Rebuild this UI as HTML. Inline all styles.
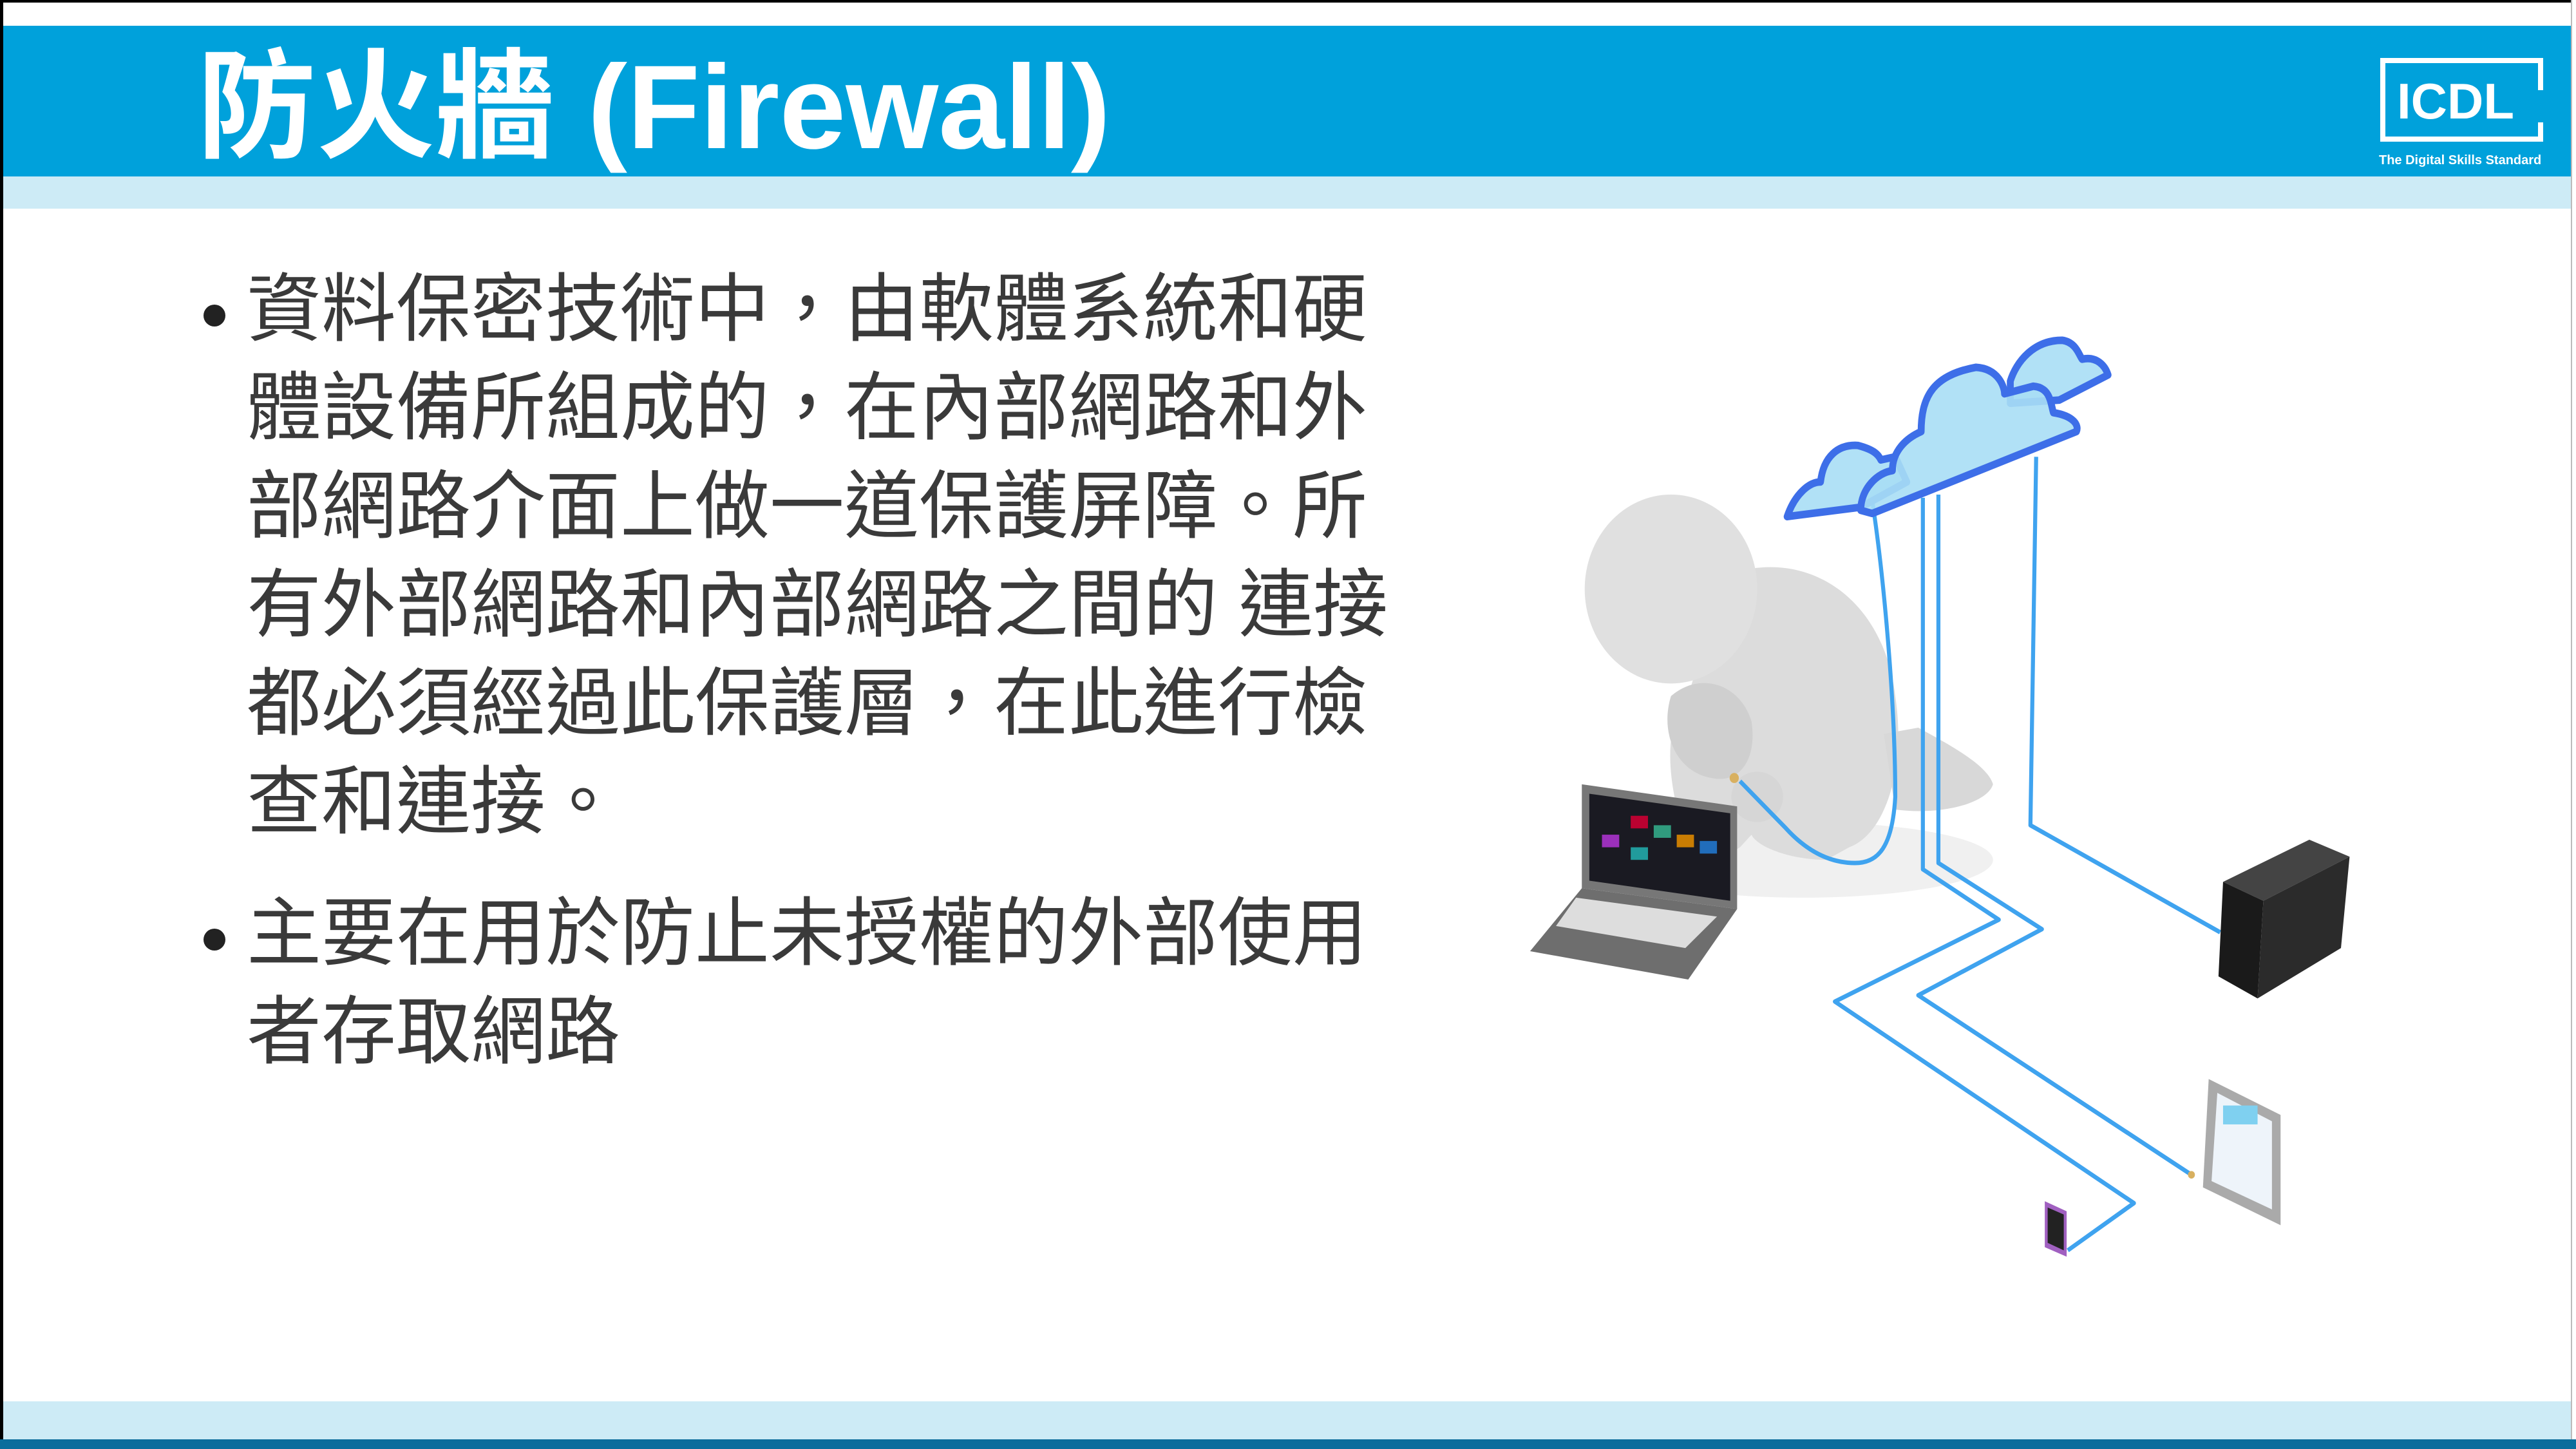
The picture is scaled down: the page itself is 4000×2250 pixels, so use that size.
<!DOCTYPE html>
<html><head><meta charset="utf-8"><style>
html,body{margin:0;padding:0;}
body{width:4000px;height:2250px;position:relative;overflow:hidden;background:#fff;font-family:"Liberation Sans","Noto Sans CJK TC",sans-serif;}
.abs{position:absolute;}
.line{position:absolute;left:383px;font-size:116px;line-height:153px;color:#3a3a3a;white-space:pre;font-family:"Liberation Sans","Noto Sans CJK TC",sans-serif;}
.dot{position:absolute;width:34px;height:34px;border-radius:50%;background:#222;left:316px;}
</style></head><body>
<div class="abs" style="left:0;top:0;width:4000px;height:4px;background:#000"></div>
<div class="abs" style="left:0;top:0;width:5px;height:2250px;background:#000"></div>
<div class="abs" style="left:3992px;top:0;width:8px;height:2250px;background:#fff;border-left:2px solid #bbb"></div>
<div class="abs" style="left:5px;top:40px;width:3987px;height:234px;background:#00a1db"></div>
<div class="abs" style="left:5px;top:274px;width:3987px;height:50px;background:#cdebf6"></div>
<div class="abs" style="left:306px;top:52px;font-size:185px;line-height:230px;color:#fff;font-weight:bold;white-space:pre;font-family:'Liberation Sans','Noto Sans CJK TC',sans-serif;">防火牆 (Firewall)</div>
<!-- logo -->
<div class="abs" style="left:3696px;top:90px;width:252px;height:130px;border:8px solid #fff;border-right:none;box-sizing:border-box;"></div>
<div class="abs" style="left:3935px;top:90px;width:14px;height:8px;background:#fff"></div>
<div class="abs" style="left:3941px;top:90px;width:8px;height:50px;background:#fff"></div>
<div class="abs" style="left:3941px;top:190px;width:8px;height:30px;background:#fff"></div>
<div class="abs" style="left:3900px;top:212px;width:49px;height:8px;background:#fff"></div>
<div class="abs" style="left:3722px;top:112px;font-size:78px;font-weight:bold;color:#fff;line-height:90px;">ICDL</div>
<div class="abs" style="left:3694px;top:238px;font-size:20px;font-weight:bold;color:#fff;white-space:pre;">The Digital Skills Standard</div>

<!-- bullets -->
<div class="dot" style="top:473px"></div>
<div class="line" style="top:404px">資料保密技術中，由軟體系統和硬</div>
<div class="line" style="top:557px">體設備所組成的，在內部網路和外</div>
<div class="line" style="top:710px">部網路介面上做一道保護屏障。所</div>
<div class="line" style="top:863px">有外部網路和內部網路之間的 連接</div>
<div class="line" style="top:1016px">都必須經過此保護層，在此進行檢</div>
<div class="line" style="top:1169px">查和連接。</div>
<div class="dot" style="top:1442px"></div>
<div class="line" style="top:1373px">主要在用於防止未授權的外部使用</div>
<div class="line" style="top:1526px">者存取網路</div>

<div class="abs" style="left:5px;top:2176px;width:3987px;height:59px;background:#cdebf6"></div>
<div class="abs" style="left:0;top:2235px;width:4000px;height:15px;background:#0b6d9c"></div>

<svg class="abs" style="left:0;top:0" width="4000" height="2250">
<g transform="translate(2300,455) scale(0.893,0.978)">
 <!-- shadow -->
 <ellipse cx="560" cy="900" rx="330" ry="60" fill="#f0f0f0"/>
 <!-- body -->
 <path d="M420,450 C560,400 700,480 720,640 C740,760 700,860 640,880 L600,900 C540,900 480,880 470,860 L450,880 C420,900 360,880 350,850 C320,760 320,680 360,640 Z" fill="#dcdcdc"/>
 <path d="M700,700 L760,690 C820,720 880,750 890,780 C880,810 800,830 720,820 Z" fill="#d8d8d8"/>
 <path d="M330,640 C380,600 450,620 470,680 C480,740 450,780 400,770 C340,760 310,700 330,640 Z" fill="#cfcfcf"/>
 <ellipse cx="480" cy="800" rx="45" ry="40" fill="#d6d6d6"/>
 <circle cx="330" cy="470" r="150" fill="#e0e0e0"/>
 <!-- cables -->
 <g fill="none" stroke="#3fa3ef" stroke-width="7" stroke-linejoin="round">
  <path d="M680,330 C700,450 720,650 720,800 C715,880 690,905 650,905 C600,905 560,880 530,850 L450,775"/>
  <path d="M768,325 L768,915 L900,995 L615,1125 L1135,1445 L1020,1520"/>
  <path d="M795,320 L795,905 L975,1010 L760,1115 L1235,1400"/>
  <path d="M965,260 L955,845 L1285,1015"/>
 </g>
 <!-- clouds -->
 <g fill="#a9def5" fill-opacity="0.9" stroke="#3d6ee8" stroke-width="12" stroke-linejoin="round">
  <path d="M920,140 C930,110 960,75 1010,75 C1035,78 1040,100 1045,105 C1070,100 1085,115 1090,130 L1005,170 L920,175 Z"/>
  <path d="M532,355 C545,320 570,300 590,300 C595,260 620,240 655,242 C680,248 690,255 695,265 L720,260 L740,300 L660,340 Z"/>
  <path d="M660,345 C660,310 690,285 715,282 C715,250 740,230 765,220 C765,160 790,130 860,118 C900,120 910,150 910,160 L960,148 C990,150 990,175 995,190 C1030,195 1040,210 1035,220 L680,350 Z"/>
 </g>
 <!-- laptop -->
 <polygon points="175,780 445,815 445,978 175,945" fill="#777"/>
 <polygon points="188,795 433,826 433,965 188,933" fill="#1a1a22"/>
 <g fill-opacity="0.9">
 <rect x="260" y="830" width="30" height="20" fill="#c03"/><rect x="300" y="845" width="30" height="20" fill="#3a8"/>
 <rect x="340" y="860" width="30" height="20" fill="#d80"/><rect x="380" y="870" width="30" height="20" fill="#27c"/>
 <rect x="210" y="860" width="30" height="20" fill="#a3c"/><rect x="260" y="880" width="30" height="20" fill="#2aa"/>
 </g>
 <polygon points="175,945 445,978 360,1090 85,1045" fill="#6e6e6e"/>
 <polygon points="165,960 410,990 355,1040 130,1005" fill="#ddd"/>
 <!-- tower -->
 <polygon points="1290,935 1440,868 1510,895 1360,965" fill="#444"/>
 <polygon points="1290,935 1360,965 1350,1120 1282,1085" fill="#1a1a1a"/>
 <polygon points="1360,965 1510,895 1495,1040 1350,1120" fill="#2b2b2b"/>
 <!-- tablet -->
 <polygon points="1265,1248 1390,1305 1390,1480 1255,1420" fill="#aaa"/>
 <polygon points="1280,1270 1375,1315 1375,1455 1270,1410" fill="#eef4fa"/>
 <rect x="1290" y="1290" width="60" height="30" fill="#7fd0f0"/>
 <!-- phone -->
 <polygon points="980,1442 1018,1458 1018,1530 980,1515" fill="#a060c0"/>
 <polygon points="985,1452 1013,1463 1013,1520 985,1508" fill="#222"/>
 <circle cx="1235" cy="1400" r="6" fill="#d8b060"/>
 <circle cx="440" cy="770" r="8" fill="#d8b060"/>
</g>
</svg>
</body></html>
